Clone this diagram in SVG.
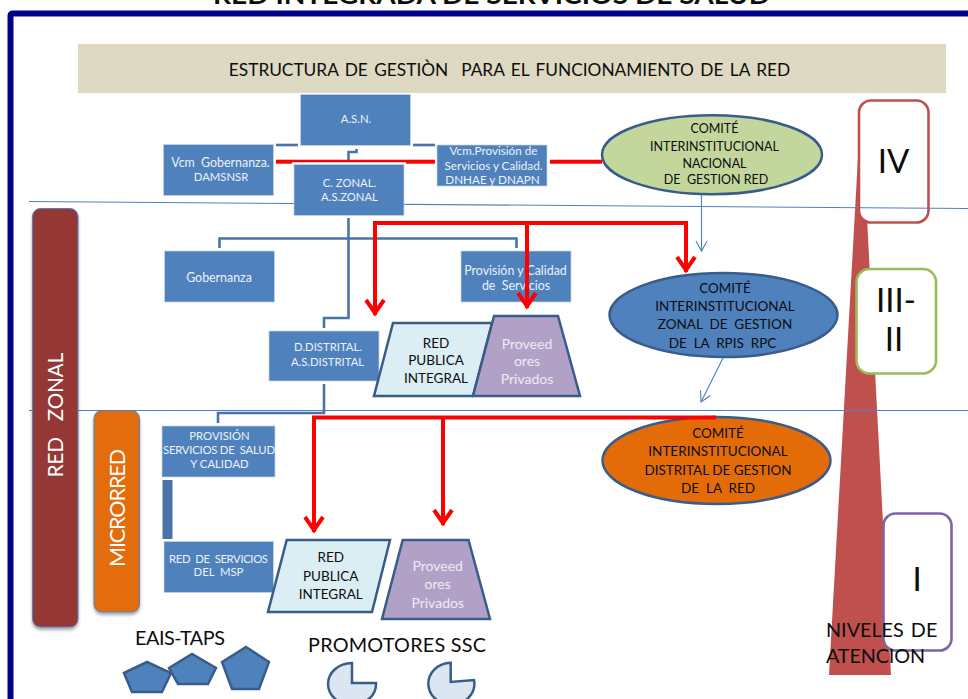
<svg xmlns="http://www.w3.org/2000/svg" width="968" height="699" viewBox="0 0 968 699">
<defs>
<style>
text{font-family:"Lato","Open Sans","Liberation Sans",sans-serif;text-anchor:middle}
.box{fill:#4F81BD;stroke:#C6D6EA;stroke-width:1;stroke-opacity:.7}
.w{fill:#EDF2F8;font-size:12.4px}
.v{fill:#EDF2F8;font-size:11.7px}
.u{fill:#EDF2F8;font-size:11.3px}
.d{fill:#0d0d0d;font-size:13.5px}
.p{fill:#EFEAF4;font-size:14px}
.shape{stroke:#385D8A;stroke-width:2.5;stroke-linejoin:miter}
.blue{fill:none;stroke:#4A74A8;stroke-width:2.6}
.red{fill:none;stroke:#FF0000;stroke-width:4}
.redthin{fill:none;stroke:#FF0000;stroke-width:2.500}
.thin{fill:none;stroke:#4F81BD;stroke-width:1.1}
.hl{stroke:#4F81BD;stroke-width:1.1;fill:none}
.lvl{fill:#fff;stroke-width:2.6}
.big{fill:#0d0d0d;font-size:33px}
.lab{fill:#0d0d0d;font-size:19.8px}
</style>
<marker id="ar" markerUnits="userSpaceOnUse" markerWidth="24" markerHeight="28" refX="20" refY="12" orient="auto" overflow="visible"><path d="M5,3 L18,12 L5,21" fill="none" stroke="#FF0000" stroke-width="4"/></marker>
<marker id="at" markerUnits="userSpaceOnUse" markerWidth="16" markerHeight="16" refX="12" refY="8" orient="auto" overflow="visible"><path d="M2,2.500 L12,8 L2,13.500" fill="none" stroke="#4F81BD" stroke-width="1.100"/></marker>
<filter id="sh" x="-20%" y="-5%" width="140%" height="110%"><feDropShadow dx="0" dy="2.500" stdDeviation="1.800" flood-color="#000" flood-opacity="0.35"/></filter>
</defs>
<rect width="968" height="699" fill="#fff"/>
<text id="title" x="491.500" y="4" font-weight="700" font-size="25" textLength="557" lengthAdjust="spacingAndGlyphs" fill="#0d0d0d">RED INTEGRADA DE SERVICIOS DE SALUD</text>
<path id="frame" d="M971,13.500 H13 Q10.500,13.500 10.500,16 V702" fill="none" stroke="#00008B" stroke-width="6"/>
<g id="banner"><rect x="78" y="44" width="868" height="49" fill="#DDD9C3"/><text x="509.500" y="76" font-size="17.300" word-spacing="2" fill="#0d0d0d" xml:space="preserve">ESTRUCTURA DE GESTIÒN  PARA EL FUNCIONAMIENTO DE LA RED</text></g>
<polygon id="piramide" points="861,104 891,675 829,675" fill="#C0504D"/>
<g id="nivel-iv"><rect class="lvl" x="859" y="100.500" width="69.500" height="122" rx="12" stroke="#C0504D"/><text class="big" x="893.500" y="173">IV</text></g>
<g id="nivel-iii"><rect class="lvl" x="856.500" y="269" width="79.500" height="104.500" rx="13" stroke="#9BBB59"/><text class="big" x="896" y="312">III-</text><text class="big" x="894" y="351">II</text></g>
<g id="nivel-i"><rect class="lvl" x="883.500" y="513.500" width="68" height="137" rx="12" stroke="#8064A2"/><text class="big" x="917" y="591">I</text></g>
<g id="lineas"><path class="hl" d="M29,201.500 L968,208.500"/><path class="hl" d="M29,410.500 H968"/></g>
<g id="red-zonal"><rect x="32.500" y="208.500" width="45.500" height="418.500" rx="8" fill="#953735" stroke="#4F81BD" filter="url(#sh)"/><text transform="translate(63,415) rotate(-90)" fill="#fff" font-size="20.500" xml:space="preserve">RED   ZONAL</text></g>
<g id="microrred"><rect x="94" y="410.500" width="45.500" height="201.500" rx="8" fill="#E36C09" stroke="#4F81BD" filter="url(#sh)"/><text transform="translate(125,508) rotate(-90)" fill="#fff" font-size="21.500" textLength="118">MICRORRED</text></g>
<g id="asn"><rect class="box" x="300.500" y="94.500" width="110" height="51"/><text class="u" x="356" y="123">A.S.N.</text></g>
<g id="vcm-gob"><rect class="box" x="163.500" y="144.500" width="110" height="51"/><text class="w" x="220.500" y="167" xml:space="preserve">Vcm  Gobernanza.</text><text class="u" x="221" y="181">DAMSNSR</text></g>
<g id="czonal"><rect class="box" x="294" y="164.500" width="110" height="51"/><text class="u" x="349.500" y="187">C. ZONAL.</text><text class="u" x="349.500" y="201">A.S.ZONAL</text></g>
<g id="vcm-prov"><rect class="box" x="437" y="145" width="110" height="41"/><text class="v" x="493.500" y="155">Vcm.Provisión de</text><text class="v" x="493.500" y="170">Servicios y Calidad.</text><text class="v" x="492.500" y="183.500">DNHAE y DNAPN</text></g>
<g id="gobernanza"><rect class="box" x="164.500" y="251" width="110" height="51"/><text class="w" x="219" y="282">Gobernanza</text></g>
<g id="prov-calidad"><rect class="box" x="461" y="251" width="110" height="51"/><text class="w" x="515.500" y="275">Provisión y Calidad</text><text class="w" x="516" y="290" xml:space="preserve">de  Servicios</text></g>
<g id="ddistrital"><rect class="box" x="269" y="331" width="110" height="50"/><text class="u" x="328" y="351">D.DISTRITAL.</text><text class="u" x="327.500" y="366">A.S.DISTRITAL</text></g>
<g id="red-publica-1"><polygon class="shape" points="393,323 492,323 473,396 374,396" fill="#DAEEF3"/><text class="d" x="436" y="348">RED</text><text class="d" x="436" y="365">PUBLICA</text><text class="d" x="436" y="383">INTEGRAL</text></g>
<g id="proveedores-1"><polygon class="shape" points="494,316 558,316 580,396 473,396" fill="#B2A1C7"/><text class="p" x="527" y="349">Proveed</text><text class="p" x="527" y="366">ores</text><text class="p" x="527" y="384">Privados</text></g>
<g id="comite-nacional"><ellipse class="shape" cx="712" cy="154.700" rx="110" ry="39.500" fill="#C3D69B"/><g style="font-size:12.500px;fill:#0d0d0d"><text x="714.500" y="133">COMITÉ</text><text x="714.500" y="151">INTERINSTITUCIONAL</text><text x="714.500" y="168">NACIONAL</text><text x="716" y="184" xml:space="preserve">DE  GESTION RED</text></g></g>
<g id="comite-zonal"><ellipse class="shape" cx="723.500" cy="315" rx="114" ry="42" fill="#4F81BD"/><g style="font-size:13.500px;fill:#0d0d0d"><text x="725" y="293">COMITÉ</text><text x="725" y="311">INTERINSTITUCIONAL</text><text x="725" y="329" xml:space="preserve">ZONAL  DE  GESTION</text><text x="722.500" y="348" xml:space="preserve">DE  LA  RPIS  RPC</text></g></g>
<g id="comite-distrital"><ellipse class="shape" cx="716.500" cy="460.500" rx="114" ry="43.500" fill="#E36C09"/><g style="font-size:13.500px;fill:#0d0d0d"><text x="718" y="438">COMITÉ</text><text x="718" y="456">INTERINSTITUCIONAL</text><text x="718" y="475">DISTRITAL DE GESTION</text><text x="718" y="493" xml:space="preserve">DE  LA  RED</text></g></g>
<g id="provision"><rect class="box" x="162" y="426" width="113" height="51"/><text class="u" x="219.500" y="440">PROVISIÓN</text><text class="u" x="219" y="454" textLength="112" xml:space="preserve">SERVICIOS DE  SALUD</text><text class="u" x="219.500" y="468">Y CALIDAD</text></g>
<rect id="barra" x="162.500" y="480" width="10" height="59" fill="#4A74A8"/>
<g id="red-servicios"><rect class="box" x="164" y="541.500" width="109.500" height="51"/><text class="u" x="218.500" y="563" textLength="99" xml:space="preserve">RED  DE  SERVICIOS</text><text class="u" x="218.500" y="576" xml:space="preserve">DEL  MSP</text></g>
<g id="red-publica-2"><polygon class="shape" points="286.700,540 390,540 372,612 268,612" fill="#DAEEF3"/><text class="d" x="330.700" y="562">RED</text><text class="d" x="330.700" y="581">PUBLICA</text><text class="d" x="330.700" y="599">INTEGRAL</text></g>
<g id="proveedores-2"><polygon class="shape" points="402.700,540 468.500,540 490,619 382,619" fill="#B2A1C7"/><text class="p" x="437.700" y="571">Proveed</text><text class="p" x="437.700" y="589">ores</text><text class="p" x="437.700" y="608">Privados</text></g>
<g id="eais"><text class="lab" x="180" y="645" textLength="90">EAIS-TAPS</text><polygon class="shape" points="124,673 147,662 171,673 162,692 132,692" fill="#4F81BD"/><polygon class="shape" points="169,668 192,654 216,668 208,684 178,684" fill="#4F81BD"/><polygon class="shape" points="222,662 246,647 269,662 259,689 232,689" fill="#4F81BD"/></g>
<g id="promotores"><text class="lab" x="397" y="652" textLength="178">PROMOTORES SSC</text><path class="shape" d="M352,683 V663 A24,21 0 1 0 376,683 Z" fill="#DCE6F1"/><path class="shape" d="M450.700,682 V662.700 A23,21 0 1 0 474,680 Z" fill="#DCE6F1"/></g>
<g id="niveles"><text x="826" y="637" style="text-anchor:start" class="lab" word-spacing="2" xml:space="preserve">NIVELES DE</text><text x="826" y="663" style="text-anchor:start" class="lab" textLength="99">ATENCION</text></g>
<g id="conectores">
<path class="blue" d="M276,145 H298"/><path class="blue" d="M413,145 H435"/>
<path class="blue" d="M348.500,161 V152 H356.500 V149"/>
<path class="red" d="M276,161.700 H292"/><path class="redthin" d="M292,160.900 H406"/><path class="red" d="M406,161.700 H435"/><path class="red" d="M550,161.700 H602"/>
<path class="blue" d="M348.500,218 V318 H324 V328"/>
<path class="blue" d="M219.500,248 V238.500 H516.500 V248"/>
<path class="blue" d="M324,384 V413 H218 V423"/>
<path class="red" d="M375,223 H686 V272" marker-end="url(#ar)"/>
<path class="red" d="M375,221 V315" marker-end="url(#ar)"/>
<path class="red" d="M527,223 V308" marker-end="url(#ar)"/>
<path class="red" d="M716,417.500 H314 V532" marker-end="url(#ar)"/>
<path class="red" d="M443,417.500 V525" marker-end="url(#ar)"/>
<path class="thin" d="M701.500,195 V251" marker-end="url(#at)"/>
<path class="thin" d="M723,358 L701,402" marker-end="url(#at)"/>
</g>
</svg>
